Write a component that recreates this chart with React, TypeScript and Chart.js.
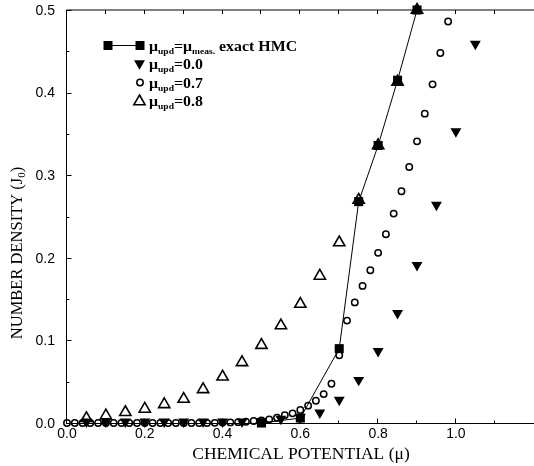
import React, { useEffect, useRef } from 'react';
import { Chart, registerables } from 'chart.js';
Chart.register(...registerables);

// exact HMC (mu_upd = mu_meas)
const exactMu = [0.5, 0.6, 0.7, 0.75, 0.8, 0.85, 0.9];
const exactN = [0.0, 0.006, 0.09, 0.268, 0.336, 0.415, 0.5];

// mu_upd = 0.0
const upd00Mu = [0.05, 0.1, 0.15, 0.2, 0.25, 0.3, 0.35, 0.4, 0.45, 0.5, 0.55, 0.6, 0.65, 0.7, 0.75, 0.8, 0.85, 0.9, 0.95, 1.0, 1.05];
const upd00N = [0.0015, 0.0015, 0.0015, 0.0015, 0.0015, 0.0015, 0.0015, 0.0015, 0.0015, 0.002, 0.005, 0.007, 0.0125, 0.028, 0.052, 0.087, 0.133, 0.191, 0.264, 0.353, 0.459];

// mu_upd = 0.7
const upd07Mu = [0.0, 0.02, 0.04, 0.06, 0.08, 0.1, 0.12, 0.14, 0.16, 0.18, 0.2, 0.22, 0.24, 0.26, 0.28, 0.3, 0.32, 0.34, 0.36, 0.38, 0.4, 0.42, 0.44, 0.46, 0.48, 0.5, 0.52, 0.54, 0.56, 0.58, 0.6, 0.62, 0.64, 0.66, 0.68, 0.7, 0.72, 0.74, 0.76, 0.78, 0.8, 0.82, 0.84, 0.86, 0.88, 0.9, 0.92, 0.94, 0.96, 0.98];
const upd07N = [0.0, 0.0, 0.0, 0.0, 0.0, 0.0, 0.0, 0.0, 0.0, 0.0, 0.0, 0.0, 0.0, 0.0, 0.0, 0.0, 0.0, 0.0, 0.0, 0.0002, 0.0005, 0.0007, 0.001, 0.0016, 0.0024, 0.003, 0.0044, 0.0064, 0.0093, 0.0117, 0.0157, 0.021, 0.027, 0.035, 0.0475, 0.082, 0.124, 0.146, 0.166, 0.185, 0.206, 0.2285, 0.2535, 0.2805, 0.31, 0.341, 0.3745, 0.41, 0.448, 0.486];

// mu_upd = 0.8
const upd08Mu = [0.05, 0.1, 0.15, 0.2, 0.25, 0.3, 0.35, 0.4, 0.45, 0.5, 0.55, 0.6, 0.65, 0.7, 0.75, 0.8, 0.85, 0.9];
const upd08N = [0.0057, 0.0089, 0.013, 0.017, 0.0226, 0.029, 0.0407, 0.056, 0.0734, 0.0943, 0.118, 0.144, 0.178, 0.2185, 0.27, 0.336, 0.413, 0.5];

const xTitle = 'CHEMICAL POTENTIAL (μ)';
const yTitleMain = 'NUMBER DENSITY (J';
const yTitleSub = '0';

const toPts = (xs: number[], ys: number[]) => xs.map((x, i) => ({ x, y: ys[i] }));

const SERIF = '"Liberation Serif", "Times New Roman", serif';
const SANS = '"Liberation Sans", Arial, sans-serif';

function drawSquare(ctx: CanvasRenderingContext2D, x: number, y: number) {
  ctx.fillStyle = '#000';
  ctx.fillRect(x - 4.5, y - 4.5, 9, 9);
}
function drawTri(ctx: CanvasRenderingContext2D, x: number, y: number, down: boolean, r: number, fill: boolean) {
  ctx.beginPath();
  for (let k = 0; k < 3; k++) {
    const a = (down ? Math.PI : 0) + k * (2 * Math.PI / 3);
    const px = x + Math.sin(a) * r;
    const py = y - Math.cos(a) * r;
    if (k === 0) ctx.moveTo(px, py); else ctx.lineTo(px, py);
  }
  ctx.closePath();
  if (fill) { ctx.fillStyle = '#000'; ctx.fill(); }
  else { ctx.strokeStyle = '#000'; ctx.lineWidth = 1.6; ctx.stroke(); }
}
function drawCircle(ctx: CanvasRenderingContext2D, x: number, y: number) {
  ctx.beginPath();
  ctx.arc(x, y, 3.2, 0, Math.PI * 2);
  ctx.strokeStyle = '#000';
  ctx.lineWidth = 1.5;
  ctx.stroke();
}

type Part = { t: string; sub?: boolean };
function richText(ctx: CanvasRenderingContext2D, x: number, y: number, parts: Part[], size: number, subSize: number, bold: boolean, sx: number) {
  ctx.save();
  ctx.translate(x, y);
  ctx.scale(sx, 1);
  ctx.fillStyle = '#000';
  ctx.textBaseline = 'alphabetic';
  ctx.textAlign = 'left';
  let cx = 0;
  for (const p of parts) {
    ctx.font = `${bold ? 'bold ' : ''}${p.sub ? subSize : size}px ${SERIF}`;
    ctx.fillText(p.t, cx, p.sub ? 3 : 0);
    cx += ctx.measureText(p.t).width;
  }
  ctx.restore();
}

export default function App() {
  const ref = useRef<HTMLCanvasElement>(null);
  useEffect(() => {
    const canvas = ref.current!;
    const framePlugin = {
      id: 'frame',
      beforeDatasetsDraw(chart: any) {
        const ctx: CanvasRenderingContext2D = chart.ctx;
        const { left, top, bottom } = chart.chartArea;
        const xs = chart.scales.x;
        const ys = chart.scales.y;
        ctx.save();
        ctx.strokeStyle = '#000';
        ctx.lineWidth = 1;
        ctx.beginPath();
        ctx.moveTo(left - 0.5, top);
        ctx.lineTo(left - 0.5, bottom + 1);
        ctx.moveTo(left - 0.5, bottom + 0.5);
        ctx.lineTo(chart.width, bottom + 0.5);
        ctx.moveTo(left - 0.5, top);
        ctx.lineTo(chart.width, top);
        for (const t of xs.ticks) {
          const px = Math.round(xs.getPixelForValue(t.value)) - 0.5;
          const major = Math.round(t.value * 10) % 2 === 0;
          ctx.moveTo(px, bottom + 0.5);
          ctx.lineTo(px, bottom + 0.5 - (major ? 5 : 3));
          ctx.moveTo(px, top);
          ctx.lineTo(px, top + 4);
        }
        for (const t of ys.ticks) {
          const py = Math.round(ys.getPixelForValue(t.value)) + 0.5;
          const major = Math.round(t.value * 20) % 2 === 0;
          ctx.moveTo(left - 0.5, py);
          ctx.lineTo(left - 0.5 + (major ? 5 : 3), py);
        }
        ctx.stroke();

        // tick labels
        ctx.fillStyle = '#000';
        ctx.font = `14px ${SANS}`;
        ctx.textAlign = 'center';
        ctx.textBaseline = 'top';
        for (const t of xs.ticks) {
          if (Math.round(t.value * 10) % 2 !== 0) continue;
          ctx.fillText(t.value.toFixed(1), xs.getPixelForValue(t.value), bottom + 4);
        }
        ctx.textAlign = 'right';
        ctx.textBaseline = 'middle';
        for (const t of ys.ticks) {
          if (Math.round(t.value * 20) % 2 !== 0) continue;
          ctx.fillText(t.value.toFixed(1), left - 12, ys.getPixelForValue(t.value) + 1);
        }
        ctx.restore();
      },
      afterDraw(chart: any) {
        const ctx: CanvasRenderingContext2D = chart.ctx;
        ctx.save();
        // axis titles
        ctx.fillStyle = '#000';
        ctx.font = `17.5px ${SERIF}`;
        ctx.textAlign = 'center';
        ctx.textBaseline = 'alphabetic';
        ctx.fillText(xTitle, 301, 459);
        ctx.save();
        ctx.translate(22, 253);
        ctx.rotate(-Math.PI / 2);
        ctx.font = `16.5px ${SERIF}`;
        const w1 = ctx.measureText(yTitleMain).width;
        ctx.font = `11px ${SERIF}`;
        const w2 = ctx.measureText(yTitleSub).width;
        ctx.font = `16.5px ${SERIF}`;
        const w3 = ctx.measureText(')').width;
        const total = w1 + w2 + w3;
        richText(ctx, -total / 2, 0, [{ t: yTitleMain }, { t: yTitleSub, sub: true }, { t: ')' }], 16.5, 11, false, 1);
        ctx.restore();

        // legend
        const sx = 1.06;
        const fs = 15;
        const ss = 9;
        ctx.strokeStyle = '#000';
        ctx.lineWidth = 1;
        ctx.beginPath();
        ctx.moveTo(108, 45.5);
        ctx.lineTo(140, 45.5);
        ctx.stroke();
        drawSquare(ctx, 108, 45.5);
        drawSquare(ctx, 140, 45.5);
        richText(ctx, 149, 50.5, [{ t: 'μ' }, { t: 'upd', sub: true }, { t: '=μ' }, { t: 'meas.', sub: true }, { t: ' exact HMC' }], fs, ss, true, sx);
        drawTri(ctx, 139.5, 63.5, true, 6.3, true);
        richText(ctx, 149, 69, [{ t: 'μ' }, { t: 'upd', sub: true }, { t: '=0.0' }], fs, ss, true, sx);
        drawCircle(ctx, 140, 82.5);
        richText(ctx, 149, 87.5, [{ t: 'μ' }, { t: 'upd', sub: true }, { t: '=0.7' }], fs, ss, true, sx);
        drawTri(ctx, 139.5, 101.5, false, 6.5, false);
        richText(ctx, 149, 106, [{ t: 'μ' }, { t: 'upd', sub: true }, { t: '=0.8' }], fs, ss, true, sx);
        ctx.restore();
      },
    };

    const chart = new Chart(canvas, {
      type: 'scatter',
      data: {
        datasets: [
          {
            label: 'exact HMC',
            data: toPts(exactMu, exactN),
            showLine: true,
            borderColor: '#000',
            borderWidth: 1,
            backgroundColor: '#000',
            pointStyle: 'rect',
            pointRadius: 6.4,
            pointBorderWidth: 0,
            pointBackgroundColor: '#000',
            clip: false,
          } as any,
          {
            label: 'upd 0.0',
            data: toPts(upd00Mu, upd00N),
            pointStyle: 'triangle',
            rotation: 180,
            pointRadius: 6.3,
            pointBorderWidth: 0,
            pointBackgroundColor: '#000',
            borderColor: '#000',
            clip: false,
          } as any,
          {
            label: 'upd 0.7',
            data: toPts(upd07Mu, upd07N),
            pointStyle: 'circle',
            pointRadius: 3.2,
            pointBorderWidth: 1.5,
            pointBorderColor: '#000',
            pointBackgroundColor: 'rgba(0,0,0,0)',
            clip: false,
          } as any,
          {
            label: 'upd 0.8',
            data: toPts(upd08Mu, upd08N),
            pointStyle: 'triangle',
            pointRadius: 6.5,
            pointBorderWidth: 1.6,
            pointBorderColor: '#000',
            pointBackgroundColor: 'rgba(0,0,0,0)',
            clip: false,
          } as any,
        ],
      },
      options: {
        responsive: false,
        animation: false,
        devicePixelRatio: 1,
        layout: { padding: { top: 10, right: 2, left: 0, bottom: 0 } },
        plugins: { legend: { display: false }, tooltip: { enabled: false } },
        scales: {
          x: {
            type: 'linear',
            min: 0,
            max: 1.18,
            grid: { display: false },
            border: { display: false },
            afterFit: (s: any) => { s.height = 43; },
            ticks: { display: false, stepSize: 0.1, includeBounds: false, autoSkip: false },
          },
          y: {
            type: 'linear',
            min: 0,
            max: 0.5,
            grid: { display: false },
            border: { display: false },
            afterFit: (s: any) => { s.width = 67; },
            ticks: { display: false, stepSize: 0.05, autoSkip: false },
          },
        },
      },
      plugins: [framePlugin],
    } as any);
    return () => chart.destroy();
  }, []);
  return (
    <div style={{ position: 'absolute', left: 0, top: 0, width: 534, height: 466, background: '#fff' }}>
      <canvas ref={ref} width={534} height={466} style={{ display: 'block' }} />
    </div>
  );
}
